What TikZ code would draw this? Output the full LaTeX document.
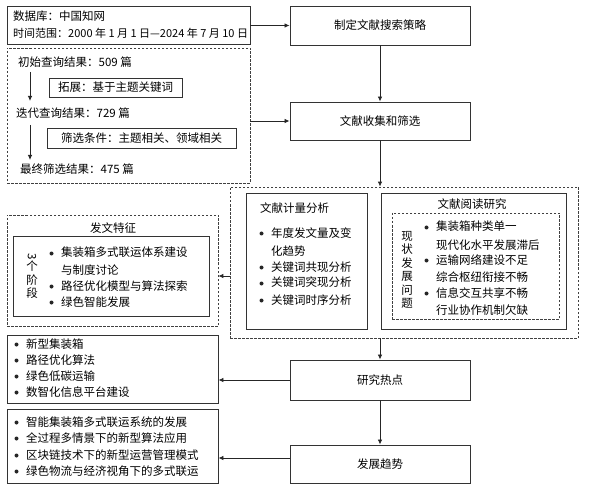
\documentclass[tikz,border=0pt]{standalone}
\usepackage{fontspec}
\setmainfont{Noto Sans CJK SC}
\usetikzlibrary{arrows.meta}
\tikzset{
 box/.style={draw=black!80, line width=0.9pt, inner sep=0pt, font=\fontsize{11.5}{13}\selectfont},
 dbox/.style={draw=black!75, line width=0.7pt, dash pattern=on 2.5pt off 1.5pt, inner sep=0pt},
 arr/.style={draw=black!85, line width=0.8pt, -{Latex[length=5pt,width=4.5pt]}},
 txt/.style={inner sep=0pt, anchor=base west, font=\fontsize{11.5}{13}\selectfont},
 vtxt/.style={inner sep=0pt, align=center, font=\fontsize{11.5}{13.5}\selectfont},
}
\newcommand\tx[4]{\node[txt] (#1) at (#2,{#3+4}) {#4};}
\newcommand\bl[4]{\fill[black!85] ({#2-9.5},{#3+0.5}) circle (2pt); \node[txt] (#1) at (#2,{#3+4}) {#4};}
\begin{document}
\begin{tikzpicture}[x=1pt,y=-1pt]
\useasboundingbox (0,0) rectangle (589,489);
% left column top
\node[box, minimum width=243pt, minimum height=38pt] (db) at (128.5,25) {};
\tx{db1}{13}{17}{数据库：中国知网}
\node[txt, font=\fontsize{11}{13}\selectfont] (db2) at (13,38) {时间范围：2000 年 1 月 1 日—2024 年 7 月 10 日};
\node[dbox, minimum width=243pt, minimum height=135pt] (q) at (128.5,115.5) {};
\tx{q1}{18}{63}{初始查询结果：509 篇}
\node[box, minimum width=133pt, minimum height=19pt] (ext) at (115.5,87.5) {拓展：基于主题关键词};
\tx{q2}{16}{114}{迭代查询结果：729 篇}
\node[box, minimum width=189pt, minimum height=20pt] (flt) at (141.5,138) {筛选条件：主题相关、领域相关};
\tx{q3}{20}{170}{最终筛选结果：475 篇}
\coordinate (ax) at (30,0);
\draw[arr] (ax |- 0,72) -- (ax |- 0,101);
\draw[arr] (ax |- 0,125) -- (ax |- 0,160);
% main column
\node[box, minimum width=180pt, minimum height=39pt] (strat) at (380,25.5) {制定文献搜索策略};
\node[box, minimum width=180pt, minimum height=38pt] (coll) at (380,121) {文献收集和筛选};
\node[dbox, minimum width=348pt, minimum height=151pt] (big) at (404,262.5) {};
\node[box, minimum width=180pt, minimum height=40pt] (hot) at (380,380) {研究热点};
\node[box, minimum width=180pt, minimum height=38pt] (trend) at (380,464) {发展趋势};
% bibliometric
\node[box, minimum width=121pt, minimum height=136pt] (bib) at (306.5,261) {};
\tx{bibt}{260}{209}{文献计量分析}
\bl{b1}{271}{233}{年度发文量及变}
\tx{b1b}{271}{251}{化趋势}
\bl{b2}{271}{267}{关键词共现分析}
\bl{b3}{271}{283}{关键词突现分析}
\bl{b4}{271}{300}{关键词时序分析}
% reading
\node[box, minimum width=185pt, minimum height=136pt] (read) at (473.5,261) {};
\node[inner sep=0pt, font=\fontsize{11.5}{13}\selectfont] (readt) at (472,204) {文献阅读研究};
\node[dbox, minimum width=167pt, minimum height=106pt] (readin) at (475.5,266) {};
\node[vtxt] (rv) at (407,270) {现\\状\\发\\展\\问\\题};
\bl{r1}{436}{227}{集装箱种类单一}
\tx{r1b}{436}{245}{现代化水平发展滞后}
\bl{r2}{436}{260}{运输网络建设不足}
\tx{r2b}{436}{277}{综合枢纽衔接不畅}
\bl{r3}{436}{293}{信息交互共享不畅}
\tx{r3b}{436}{310}{行业协作机制欠缺}
% features
\node[dbox, minimum width=211pt, minimum height=111pt] (feat) at (112.5,270.5) {};
\node[inner sep=0pt, font=\fontsize{11.5}{13}\selectfont] (featt) at (113,228) {发文特征};
\node[box, minimum width=196pt, minimum height=80pt] (featin) at (111,276) {};
\node[vtxt] (fv) at (32,276) {\rotatebox{-90}{3}\\个\\阶\\段};
\bl{f1}{61}{253}{集装箱多式联运体系建设}
\tx{f1b}{61}{270}{与制度讨论}
\bl{f2}{61}{286}{路径优化模型与算法探索}
\bl{f3}{61}{302}{绿色智能发展}
% hotspots list
\node[box, minimum width=211pt, minimum height=68pt] (hotl) at (112.5,369) {};
\bl{h1}{26}{344}{新型集装箱}
\bl{h2}{26}{360}{路径优化算法}
\bl{h3}{26}{376}{绿色低碳运输}
\bl{h4}{26}{392}{数智化信息平台建设}
% trends list
\node[box, minimum width=211pt, minimum height=74pt] (trendl) at (112.5,446) {};
\bl{t1}{26}{422}{智能集装箱多式联运系统的发展}
\bl{t2}{26}{438}{全过程多情景下的新型算法应用}
\bl{t3}{26}{455}{区块链技术下的新型运营管理模式}
\bl{t4}{26}{471}{绿色物流与经济视角下的多式联运}
% connectors
\coordinate (tw) at ([yshift=6pt]trend.west);
\draw[arr] (db.east |- strat.west) -- (strat.west);
\draw[arr] (q.east |- coll.west) -- (coll.west);
\draw[arr] (strat.south) -- (coll.north);
\draw[arr] (coll.south) -- (coll.south |- big.north);
\draw[arr] (big.west |- featin.east) -- (feat.east |- featin.east);
\draw[arr] (hot.north |- big.south) -- (hot.north);
\draw[arr] (hot.west) -- (hotl.east |- hot.west);
\draw[arr] (hot.south) -- (trend.north);
\draw[arr] (tw) -- (trendl.east |- tw);
\end{tikzpicture}
\end{document}
